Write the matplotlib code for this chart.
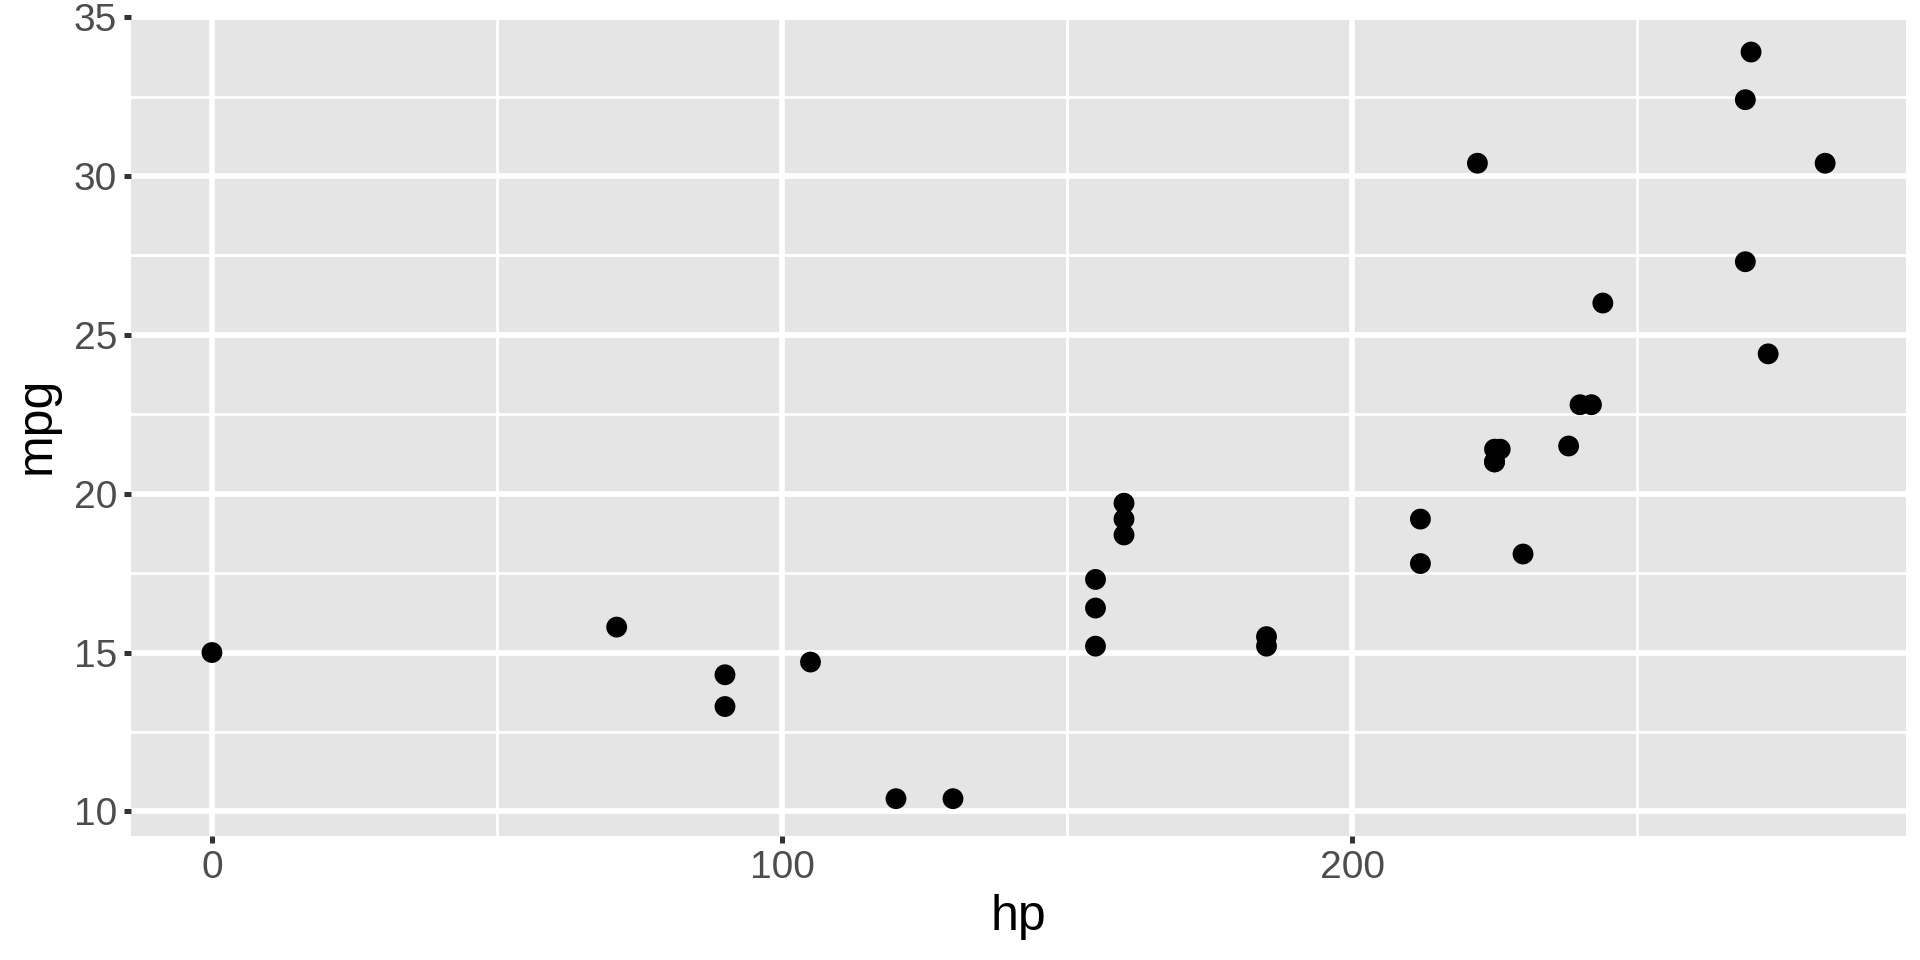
import matplotlib
matplotlib.use("Agg")
import matplotlib.pyplot as plt
from matplotlib.patches import Rectangle

plt.rcParams['font.family'] = ['Liberation Sans', 'DejaVu Sans']

hp = [0, 71, 90, 90, 105, 120, 130, 155, 155, 155, 160, 160, 160, 185, 185,
      212, 212, 222, 225, 226, 225, 225, 230, 238, 240, 242, 244, 269, 270,
      269, 273, 283]
mpg = [15.0, 15.8, 14.3, 13.3, 14.7, 10.4, 10.4, 17.3, 16.4, 15.2, 19.7, 19.2,
       18.7, 15.5, 15.2, 19.2, 17.8, 30.4, 21.4, 21.4, 21.0, 21.0, 18.1, 21.5,
       22.8, 22.8, 26.0, 32.4, 33.9, 27.3, 24.4, 30.4]
x_major = [0, 100, 200]
x_minor = [50, 150, 250]
y_major = [10, 15, 20, 25, 30, 35]
y_minor = [12.5, 17.5, 22.5, 27.5, 32.5]

W, H = 1920, 960
fig = plt.figure(figsize=(W / 100, H / 100), dpi=100)
left, right, bottom, top = 131.3, 1905.8, 836, 14.7
ax = fig.add_axes([left / W, (H - bottom) / H, (right - left) / W, (bottom - top) / H])
ax.set_facecolor('white')
# grey panel (visible part)
grey_frac = (bottom - 20) / (bottom - top)
ax.add_patch(Rectangle((0, 0), 1, grey_frac, transform=ax.transAxes,
                       facecolor='#E5E5E5', edgecolor='none', zorder=0))

xr = max(hp) - min(hp)
yr = max(mpg) - min(mpg)
ax.set_xlim(min(hp) - 0.05 * xr, max(hp) + 0.05 * xr)
ax.set_ylim(min(mpg) - 0.05 * yr, max(mpg) + 0.05 * yr)

for v in x_minor:
    ax.axvline(v, color='white', lw=2.0, zorder=1)
for v in x_major:
    ax.axvline(v, color='white', lw=4.1, zorder=1)
for v in y_minor:
    ax.axhline(v, color='white', lw=2.0, zorder=1)
for v in y_major:
    ax.axhline(v, color='white', lw=4.1, zorder=1)

ax.scatter(hp, mpg, s=225, color='black', edgecolors='none', zorder=3)

ax.set_xticks(x_major)
ax.set_yticks(y_major)
ax.set_xticklabels([str(v) for v in x_major])
ax.set_yticklabels([str(v) for v in y_major])
ax.tick_params(axis='both', length=5.2, width=3.6, color='#333333',
               labelcolor='#4D4D4D', labelsize=28, pad=5)
for s in ax.spines.values():
    s.set_visible(False)

ax.set_xlabel('hp', fontsize=36, color='black', labelpad=6)
ax.set_ylabel('mpg', fontsize=36, color='black', labelpad=10)

fig.savefig('out.png', dpi=100)
